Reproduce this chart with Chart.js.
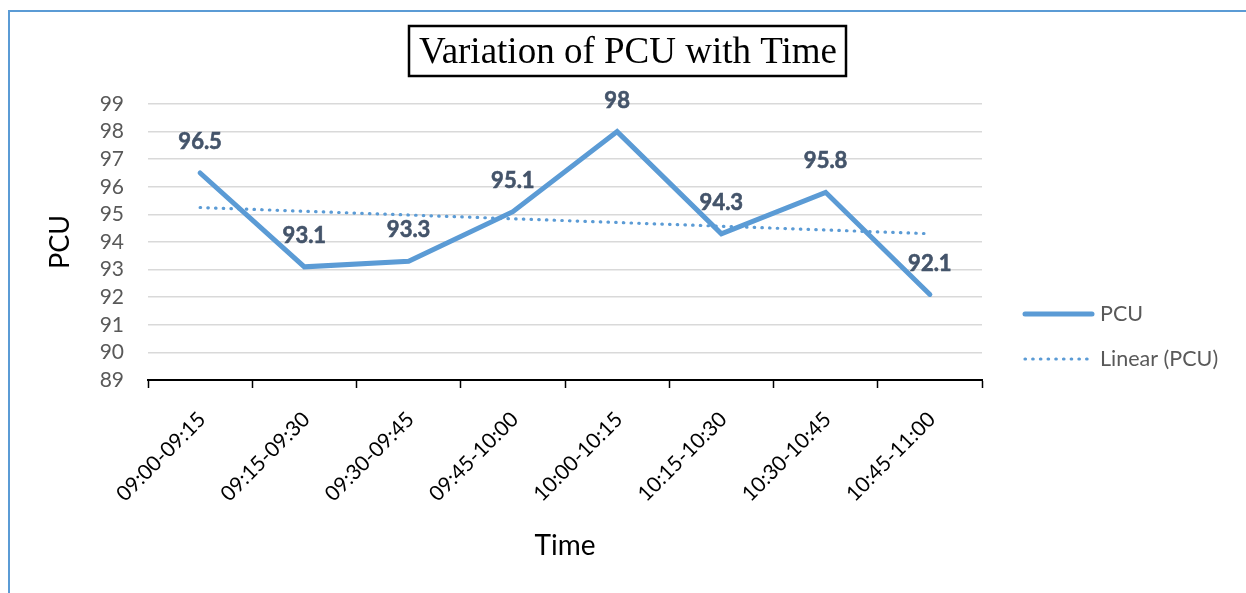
<!DOCTYPE html>
<html><head><meta charset="utf-8">
<script src="https://cdn.jsdelivr.net/npm/chart.js@4/dist/chart.umd.min.js"></script>
<style>
html,body{margin:0;padding:0;background:#fff;overflow:hidden;}
#wrap{position:relative;width:1246px;height:593px;overflow:hidden;}
#frame{position:absolute;left:8px;top:10px;width:1300px;height:700px;border:2px solid #5B9BD5;box-sizing:border-box;pointer-events:none;}
canvas{position:absolute;left:0;top:0;}
</style></head><body>
<div id="wrap"><canvas id="c" width="1246" height="593"></canvas><div id="frame"></div></div>
<script>
const chartTitle = 'Variation of PCU with Time';
const categories = ['09:00-09:15','09:15-09:30','09:30-09:45','09:45-10:00','10:00-10:15','10:15-10:30','10:30-10:45','10:45-11:00'];
const pcuValues = [96.5, 93.1, 93.3, 95.1, 98, 94.3, 95.8, 92.1];
// linear trendline, read at its two ends
const trendValues = [95.25, null, null, null, null, null, null, 94.3];
const yMin = 89, yMax = 99, yStep = 1;
const seriesNames = ['PCU', 'Linear (PCU)'];
const xTitle = 'Time', yTitle = 'PCU';

const BLUE = '#5B9BD5';

const labelPlugin = {
  id: 'pcuLabels',
  afterDatasetsDraw(chart) {
    const meta = chart.getDatasetMeta(0);
    const ctx = chart.ctx;
    ctx.save();
    ctx.font = 'bold 22px Lato';
    ctx.fillStyle = '#44546A';
    ctx.strokeStyle = '#44546A';
    ctx.lineWidth = 0.6;
    ctx.textAlign = 'center';
    ctx.textBaseline = 'middle';
    meta.data.forEach((pt, i) => {
      const t = String(pcuValues[i]);
      ctx.fillText(t, pt.x, pt.y - 31);
      ctx.strokeText(t, pt.x, pt.y - 31);
    });
    ctx.restore();
  }
};

const titlePlugin = {
  id: 'boxTitle',
  afterDraw(chart) {
    const ctx = chart.ctx;
    ctx.save();
    ctx.strokeStyle = '#000';
    ctx.lineWidth = 2.5;
    ctx.strokeRect(409, 26, 437, 50);
    ctx.fillStyle = '#000';
    ctx.font = '37px "Liberation Serif"';
    ctx.textAlign = 'center';
    ctx.textBaseline = 'alphabetic';
    ctx.fillText(chartTitle, 628, 63);
    ctx.restore();
  }
};

const legendPlugin = {
  id: 'sideLegend',
  afterDraw(chart) {
    const ctx = chart.ctx;
    const ds = chart.data.datasets;
    const rows = [314, 359];
    ctx.save();
    ds.forEach((d, i) => {
      const y = rows[i];
      ctx.beginPath();
      ctx.strokeStyle = d.borderColor;
      ctx.lineWidth = d.borderWidth;
      ctx.lineCap = d.borderCapStyle || 'butt';
      ctx.setLineDash(d.borderDash || []);
      ctx.moveTo(1025, y);
      ctx.lineTo(1092, y);
      ctx.stroke();
      ctx.setLineDash([]);
      ctx.fillStyle = '#595959';
      ctx.font = '21.5px Lato';
      ctx.textAlign = 'left';
      ctx.textBaseline = 'middle';
      ctx.fillText(d.label, 1100, y);
    });
    ctx.restore();
  }
};

new Chart(document.getElementById('c'), {
  type: 'line',
  data: {
    labels: categories,
    datasets: [
      {
        label: seriesNames[0],
        data: pcuValues,
        borderColor: BLUE,
        borderWidth: 5,
        borderCapStyle: 'round',
        borderJoinStyle: 'miter',
        pointRadius: 0,
        tension: 0,
        fill: false
      },
      {
        label: seriesNames[1],
        data: trendValues,
        borderColor: BLUE,
        borderWidth: 3.2,
        borderDash: [0.5, 7.2],
        borderCapStyle: 'round',
        pointRadius: 0,
        spanGaps: true,
        tension: 0,
        fill: false
      }
    ]
  },
  options: {
    responsive: false,
    animation: false,
    devicePixelRatio: 1,
    layout: { padding: { left: 0, right: 264, top: 104, bottom: 0 } },
    plugins: {
      legend: { display: false },
      title: { display: false },
      tooltip: { enabled: false }
    },
    scales: {
      x: {
        type: 'category',
        offset: true,
        afterFit(scale) { scale.height = 213; },
        grid: {
          display: true,
          offset: true,
          drawOnChartArea: false,
          drawTicks: true,
          tickLength: 8,
          tickColor: '#000',
          tickWidth: 1.5,
          color: '#000'
        },
        border: { display: true, color: '#000', width: 2 },
        ticks: {
          autoSkip: false,
          minRotation: 45,
          maxRotation: 45,
          padding: 19,
          labelOffset: 2,
          color: '#000',
          font: { family: 'Lato', size: 21 }
        },
        title: {
          display: true,
          text: xTitle,
          color: '#000',
          font: { family: 'Lato', size: 28 },
          padding: { top: 0, bottom: 30 }
        }
      },
      y: {
        min: yMin,
        max: yMax,
        afterFit(scale) { scale.width = 148; },
        grid: {
          color: '#D9D9D9',
          lineWidth: 1.5,
          drawTicks: false
        },
        border: { display: false },
        ticks: {
          autoSkip: false,
          stepSize: yStep,
          padding: 24,
          color: '#595959',
          font: { family: 'Lato', size: 21 }
        },
        title: {
          display: true,
          text: yTitle,
          color: '#000',
          font: { family: 'Lato', size: 27 },
          padding: { top: 44, bottom: 0 }
        }
      }
    }
  },
  plugins: [labelPlugin, titlePlugin, legendPlugin]
});
</script>
</body></html>
